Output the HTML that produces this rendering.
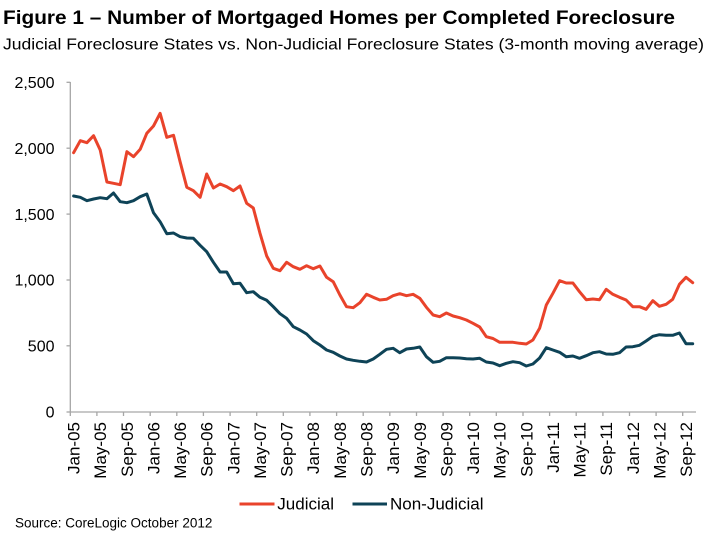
<!DOCTYPE html>
<html>
<head>
<meta charset="utf-8">
<style>
html,body{margin:0;padding:0;background:#fff;}
body{width:710px;height:546px;overflow:hidden;}
svg{display:block;}
text{font-family:"Liberation Sans",Arial,sans-serif;fill:#000;}
</style>
</head>
<body>
<svg width="710" height="546" viewBox="0 0 710 546" xmlns="http://www.w3.org/2000/svg">
<rect width="710" height="546" fill="#fff"/>
<!-- Titles -->
<text x="3" y="24" font-size="19.5" font-weight="bold" textLength="672" lengthAdjust="spacingAndGlyphs">Figure 1 – Number of Mortgaged Homes per Completed Foreclosure</text>
<text x="3" y="49.5" font-size="15.5" textLength="701" lengthAdjust="spacingAndGlyphs">Judicial Foreclosure States vs. Non-Judicial Foreclosure States (3-month moving average)</text>

<!-- Axes -->
<g stroke="#A6A6A6" stroke-width="1.3" fill="none">
<line x1="70.3" y1="82" x2="70.3" y2="412"/>
<line x1="70.3" y1="412" x2="696" y2="412"/>
<line x1="66.5" y1="82.3" x2="70.3" y2="82.3"/>
<line x1="66.5" y1="148.2" x2="70.3" y2="148.2"/>
<line x1="66.5" y1="214.1" x2="70.3" y2="214.1"/>
<line x1="66.5" y1="280" x2="70.3" y2="280"/>
<line x1="66.5" y1="345.8" x2="70.3" y2="345.8"/>
<line x1="66.5" y1="412" x2="70.3" y2="412"/>
<line x1="70.3" y1="412" x2="70.3" y2="416"/>
<line x1="96.9" y1="412" x2="96.9" y2="416"/>
<line x1="123.5" y1="412" x2="123.5" y2="416"/>
<line x1="150.2" y1="412" x2="150.2" y2="416"/>
<line x1="176.8" y1="412" x2="176.8" y2="416"/>
<line x1="203.4" y1="412" x2="203.4" y2="416"/>
<line x1="230.1" y1="412" x2="230.1" y2="416"/>
<line x1="256.7" y1="412" x2="256.7" y2="416"/>
<line x1="283.3" y1="412" x2="283.3" y2="416"/>
<line x1="309.9" y1="412" x2="309.9" y2="416"/>
<line x1="336.6" y1="412" x2="336.6" y2="416"/>
<line x1="363.2" y1="412" x2="363.2" y2="416"/>
<line x1="389.8" y1="412" x2="389.8" y2="416"/>
<line x1="416.5" y1="412" x2="416.5" y2="416"/>
<line x1="443.1" y1="412" x2="443.1" y2="416"/>
<line x1="469.7" y1="412" x2="469.7" y2="416"/>
<line x1="496.3" y1="412" x2="496.3" y2="416"/>
<line x1="523" y1="412" x2="523" y2="416"/>
<line x1="549.6" y1="412" x2="549.6" y2="416"/>
<line x1="576.2" y1="412" x2="576.2" y2="416"/>
<line x1="602.9" y1="412" x2="602.9" y2="416"/>
<line x1="629.5" y1="412" x2="629.5" y2="416"/>
<line x1="656.1" y1="412" x2="656.1" y2="416"/>
<line x1="682.7" y1="412" x2="682.7" y2="416"/>
</g>

<!-- Y labels -->
<g font-size="16" text-anchor="end">
<text x="54.5" y="88">2,500</text>
<text x="54.5" y="153.9">2,000</text>
<text x="54.5" y="219.8">1,500</text>
<text x="54.5" y="285.7">1,000</text>
<text x="54.5" y="351.5">500</text>
<text x="54.5" y="417.5">0</text>
</g>

<!-- X labels -->
<g font-size="17" text-anchor="end">
<text transform="translate(79.6,422) rotate(-90)">Jan-05</text>
<text transform="translate(106.2,422) rotate(-90)">May-05</text>
<text transform="translate(132.9,422) rotate(-90)">Sep-05</text>
<text transform="translate(159.5,422) rotate(-90)">Jan-06</text>
<text transform="translate(186.1,422) rotate(-90)">May-06</text>
<text transform="translate(212.7,422) rotate(-90)">Sep-06</text>
<text transform="translate(239.4,422) rotate(-90)">Jan-07</text>
<text transform="translate(266,422) rotate(-90)">May-07</text>
<text transform="translate(292.6,422) rotate(-90)">Sep-07</text>
<text transform="translate(319.2,422) rotate(-90)">Jan-08</text>
<text transform="translate(345.9,422) rotate(-90)">May-08</text>
<text transform="translate(372.5,422) rotate(-90)">Sep-08</text>
<text transform="translate(399.1,422) rotate(-90)">Jan-09</text>
<text transform="translate(425.8,422) rotate(-90)">May-09</text>
<text transform="translate(452.4,422) rotate(-90)">Sep-09</text>
<text transform="translate(479,422) rotate(-90)">Jan-10</text>
<text transform="translate(505.7,422) rotate(-90)">May-10</text>
<text transform="translate(532.3,422) rotate(-90)">Sep-10</text>
<text transform="translate(558.9,422) rotate(-90)">Jan-11</text>
<text transform="translate(585.5,422) rotate(-90)">May-11</text>
<text transform="translate(612.2,422) rotate(-90)">Sep-11</text>
<text transform="translate(638.8,422) rotate(-90)">Jan-12</text>
<text transform="translate(665.4,422) rotate(-90)">May-12</text>
<text transform="translate(692,422) rotate(-90)">Sep-12</text>
</g>

<!-- Series -->
<polyline fill="none" stroke="#E9432B" stroke-width="3" stroke-linejoin="round" stroke-linecap="round" points="
73.6,152.7 80.3,140.7 86.9,142.7 93.6,135.7 100.2,150 106.9,182 113.5,183.3 120.2,184.7 126.9,151.7 133.5,156.7
140.2,149.3 146.8,133.3 153.5,126 160.1,113.3 166.8,137.3 173.5,135.3 180.1,161.7 186.8,187.3 193.4,190.7 200.1,197.3
206.7,174 213.4,188 220.1,184 226.7,186.7 233.4,190.7 240,186 246.7,203.3 253.3,208 260,233.3 266.7,256
273.3,268.3 280,270.7 286.6,262.3 293.3,266.7 299.9,269.3 306.6,265.7 313.3,268.7 319.9,266 326.6,277.3 333.2,281.7
339.9,295 346.5,306.7 353.2,307.7 359.9,302.7 366.5,294.3 373.2,297.3 379.8,300 386.5,299.3 393.1,295.7 399.8,293.7
406.5,295.7 413.1,294.3 419.8,298.3 426.4,307.3 433.1,315 439.7,316.7 446.4,313 453.1,316 459.7,317.7 466.4,320
473,323.3 479.7,327 486.3,336.7 493,338.5 499.7,342.3 506.3,342.3 513,342.3 519.6,343.3 526.3,344 532.9,340
539.6,328.3 546.3,305 552.9,293.3 559.6,280.7 566.2,283 572.9,283 579.5,291.7 586.2,299.7 592.9,299 599.5,299.7
606.2,289.3 612.8,294.3 619.5,297.3 626.1,300 632.8,306.7 639.5,306.7 646.1,309.3 652.8,300.7 659.4,306.3 666.1,304.3
672.7,299.3 679.4,284.3 686,277.3 692.7,282.7"/>
<polyline fill="none" stroke="#0E4357" stroke-width="3" stroke-linejoin="round" stroke-linecap="round" points="
73.6,196 80.3,197.3 86.9,200.7 93.6,199 100.2,197.7 106.9,198.7 113.5,193 120.2,201.7 126.9,202.7 133.5,200.7
140.2,196.7 146.8,194 153.5,212.7 160.1,221.7 166.8,233.7 173.5,233 180.1,236.7 186.8,238 193.4,238.3 200.1,245.3
206.7,251.7 213.4,262.3 220.1,272 226.7,272 233.4,283.7 240,283.3 246.7,292.7 253.3,291.7 260,297.3 266.7,300.3
273.3,306.7 280,313.7 286.6,318.3 293.3,326.7 299.9,330 306.6,334 313.3,340.7 319.9,345 326.6,350 333.2,352.3
339.9,356 346.5,359 353.2,360.3 359.9,361.3 366.5,362 373.2,359 379.8,354.3 386.5,349.3 393.1,348.3 399.8,352.7
406.5,349 413.1,348.3 419.8,347 426.4,356.7 433.1,362.3 439.7,361.3 446.4,357.7 453.1,357.7 459.7,358 466.4,358.7
473,359 479.7,358.3 486.3,362 493,363 499.7,365.7 506.3,363.3 513,361.7 519.6,362.7 526.3,366 532.9,364
539.6,358 546.3,347.7 552.9,350 559.6,352.3 566.2,356.7 572.9,356 579.5,358.3 586.2,355.7 592.9,352.7 599.5,351.7
606.2,354 612.8,354.3 619.5,352.7 626.1,347 632.8,346.7 639.5,345.3 646.1,341 652.8,336.3 659.4,334.7 666.1,335.3
672.7,335.3 679.4,333 686,343.7 692.7,343.7"/>

<!-- Legend -->
<line x1="239.5" y1="504" x2="274.5" y2="504" stroke="#E9432B" stroke-width="3"/>
<text x="277.3" y="509.5" font-size="17">Judicial</text>
<line x1="352.5" y1="504" x2="387" y2="504" stroke="#0E4357" stroke-width="3"/>
<text x="390" y="509.5" font-size="17">Non-Judicial</text>

<!-- Source -->
<text x="15" y="527.5" font-size="13.5">Source: CoreLogic October 2012</text>
</svg>
</body>
</html>
